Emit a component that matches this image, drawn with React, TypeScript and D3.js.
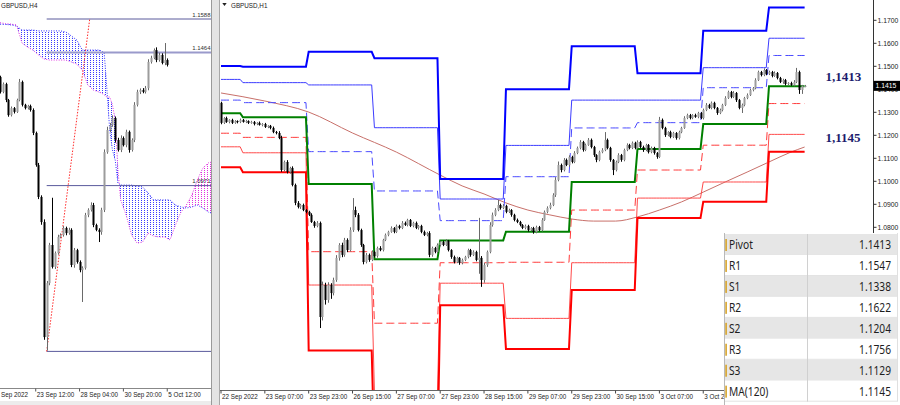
import React from "react";
import * as d3 from "d3";

// ---------------- H1 panel (right) ----------------
const h1FirstOpen = 1.1341;
const h1Close = [
  1.1254, 1.1275, 1.1258, 1.1267, 1.1254, 1.1262, 1.1258, 1.1267, 1.1258, 1.1262,
  1.1254, 1.1258, 1.1249, 1.1254, 1.1245, 1.1249, 1.1236, 1.1241, 1.1232, 1.1214,
  1.1210, 1.1188, 1.1049, 1.1084, 1.1041, 1.1058, 1.0984, 1.0906, 1.0888, 1.0897,
  1.0875, 1.0867, 1.0854, 1.0823, 1.0806, 1.0819, 1.0410, 1.0549, 1.0484, 1.0549,
  1.0514, 1.0571, 1.0667, 1.0723, 1.0680, 1.0745, 1.0701, 1.0788, 1.0875, 1.0854,
  1.0788, 1.0723, 1.0649, 1.0680, 1.0658, 1.0693, 1.0675, 1.0710, 1.0701, 1.0745,
  1.0767, 1.0780, 1.0797, 1.0780, 1.0806, 1.0797, 1.0819, 1.0810, 1.0832, 1.0806,
  1.0819, 1.0797, 1.0806, 1.0780, 1.0767, 1.0775, 1.0680, 1.0710, 1.0693, 1.0723,
  1.0736, 1.0723, 1.0740, 1.0701, 1.0671, 1.0649, 1.0667, 1.0645, 1.0658, 1.0671,
  1.0701, 1.0680, 1.0693, 1.0658, 1.0667, 1.0571, 1.0636, 1.0693, 1.0810, 1.0854,
  1.0875, 1.0897, 1.0884, 1.0893, 1.0867, 1.0875, 1.0854, 1.0832, 1.0823, 1.0810,
  1.0797, 1.0806, 1.0788, 1.0797, 1.0780, 1.0801, 1.0788, 1.0832, 1.0867, 1.0884,
  1.0897, 1.0940, 1.1006, 1.1071, 1.1049, 1.1093, 1.1071, 1.1106, 1.1084, 1.1123,
  1.1145, 1.1171, 1.1136, 1.1158, 1.1180, 1.1149, 1.1114, 1.1093, 1.1127, 1.1136,
  1.1180, 1.1145, 1.1093, 1.1049, 1.1084, 1.1114, 1.1093, 1.1136, 1.1158, 1.1145,
  1.1167, 1.1145, 1.1171, 1.1149, 1.1136, 1.1158, 1.1127, 1.1145, 1.1123, 1.1106,
  1.1267, 1.1232, 1.1201, 1.1214, 1.1193, 1.1210, 1.1188, 1.1214, 1.1232, 1.1275,
  1.1288, 1.1275, 1.1288, 1.1280, 1.1297, 1.1275, 1.1310, 1.1332, 1.1319, 1.1341,
  1.1319, 1.1297, 1.1310, 1.1332, 1.1362, 1.1388, 1.1367, 1.1384, 1.1353, 1.1319,
  1.1332, 1.1362, 1.1375, 1.1397, 1.1405, 1.1440, 1.1475, 1.1462, 1.1484, 1.1467,
  1.1475, 1.1458, 1.1471, 1.1449, 1.1432, 1.1440, 1.1423, 1.1427, 1.1419, 1.1432,
  1.1475, 1.1397, 1.1414, 1.1415,
];
const h1UpWickPips = [
  5, 4, 6, 3, 5, 4, 3, 6, 4, 5, 3, 5, 4, 3, 6, 4, 5, 3, 4, 6,
  5, 8, 10, 6, 8, 5, 7, 6, 8, 5, 6, 4, 5, 7, 5, 8, 6, 15, 10, 12,
  8, 10, 12, 8, 10, 9, 7, 12, 52, 15, 8, 6, 5, 8, 6, 7, 5, 6, 8, 5,
  6, 5, 7, 4, 6, 5, 8, 6, 5, 4, 5, 6, 4, 5, 6, 5, 8, 6, 5, 7,
  5, 6, 8, 5, 4, 6, 5, 4, 6, 5, 6, 5, 7, 5, 174, 8, 10, 6, 12, 10,
  8, 22, 6, 8, 5, 6, 4, 5, 6, 5, 4, 6, 5, 4, 5, 6, 5, 8, 6, 7,
  10, 8, 12, 15, 6, 8, 6, 7, 5, 8, 6, 8, 5, 6, 8, 6, 5, 4, 6, 8,
  34, 6, 5, 4, 6, 8, 5, 6, 7, 5, 6, 5, 7, 5, 6, 5, 4, 6, 5, 4,
  13, 6, 5, 4, 6, 5, 4, 6, 5, 8, 6, 5, 4, 6, 5, 4, 6, 8, 5, 6,
  5, 4, 6, 5, 8, 6, 5, 8, 4, 5, 6, 5, 7, 6, 5, 8, 6, 5, 7, 4,
  6, 5, 7, 4, 5, 6, 5, 4, 6, 8, 18, 6, 5, 4,
];
const h1DnWickPips = [
  6, 5, 4, 6, 5, 4, 6, 5, 3, 5, 5, 4, 6, 5, 3, 6, 4, 5, 6, 5,
  6, 5, 8, 6, 7, 8, 6, 10, 6, 8, 5, 6, 5, 4, 8, 6, 48, 15, 20, 12,
  25, 10, 8, 12, 10, 8, 9, 6, 8, 10, 6, 8, 10, 6, 8, 5, 6, 7, 5, 6,
  5, 6, 4, 6, 5, 6, 5, 4, 6, 5, 6, 5, 7, 6, 5, 6, 10, 8, 6, 5,
  6, 5, 4, 6, 8, 6, 5, 8, 6, 5, 6, 8, 5, 6, 60, 30, 12, 8, 6, 7,
  6, 5, 7, 5, 6, 5, 8, 6, 5, 6, 5, 6, 7, 5, 8, 6, 5, 6, 4, 6,
  6, 5, 8, 6, 10, 6, 5, 8, 6, 5, 5, 6, 7, 5, 4, 6, 8, 10, 6, 5,
  5, 6, 8, 22, 6, 5, 8, 6, 5, 6, 5, 6, 4, 6, 8, 5, 6, 5, 7, 8,
  5, 6, 8, 5, 6, 5, 7, 6, 5, 4, 5, 6, 5, 4, 6, 5, 6, 5, 4, 6,
  6, 8, 5, 6, 5, 4, 6, 5, 8, 6, 22, 6, 5, 4, 6, 5, 4, 6, 5, 6,
  5, 6, 4, 6, 5, 8, 6, 5, 4, 6, 5, 17, 17, 5,
];

const h1DayStartBars = [0, 8, 32, 56, 80, 104, 128, 152, 176, 200];
const pivotR3 = [1.1501, 1.1498, 1.1563, 1.1535, 1.101, 1.14, 1.1587, 1.147, 1.1655, 1.1756];
const pivotR2 = [1.1443, 1.1429, 1.1419, 1.1233, 1.0923, 1.1156, 1.1353, 1.1353, 1.1494, 1.1622];
const pivotR1 = [1.1353, 1.1342, 1.1129, 1.0958, 1.0829, 1.102, 1.1232, 1.1255, 1.1407, 1.1547];
const pivotP = [1.1296, 1.1278, 1.0988, 1.0661, 1.0743, 1.0781, 1.0997, 1.114, 1.1249, 1.1413];
const pivotS1 = [1.1209, 1.1191, 1.0694, 1.0383, 1.0646, 1.0648, 1.0875, 1.1049, 1.1157, 1.1338];
const pivotS2 = [1.115, 1.1124, 1.0549, 1.0084, 1.0557, 1.0404, 1.0646, 1.0927, 1.0997, 1.1204];
const pivotS3 = [1.1061, 1.1039, 1.0264, 0.981, 1.0461, 1.0271, 1.0527, 1.084, 1.0911, 1.1129];

const maBars = [0, 16, 32, 48, 64, 80, 88, 96, 104, 112, 120, 128, 136, 144, 152, 160, 168, 176, 184, 192, 200, 208, 213];
const maValues = [1.1384, 1.1349, 1.1301, 1.121, 1.1127, 1.1027, 1.098, 1.0945, 1.0906, 1.0875, 1.0854, 1.0836, 1.0827, 1.0827, 1.0845, 1.0875, 1.091, 1.0953, 1.0997, 1.104, 1.1084, 1.1127, 1.1149];

const h1TickBars = [0, 16, 32, 48, 64, 80, 96, 112, 128, 144, 160, 176];
const h1TickLabels = [
  "22 Sep 2022", "23 Sep 07:00", "23 Sep 23:00", "26 Sep 15:00", "27 Sep 07:00",
  "27 Sep 23:00", "28 Sep 15:00", "29 Sep 07:00", "29 Sep 23:00", "30 Sep 15:00",
  "3 Oct 07:00", "3 Oct 23:00",
];
const h1PriceTicks = [1.17, 1.16, 1.15, 1.14, 1.13, 1.12, 1.11, 1.1, 1.09, 1.08];

// ---------------- H4 panel (left) ----------------
const h4FirstOpen = 1.1373;
const h4Close = [
  1.1318, 1.1347, 1.1288, 1.1232, 1.1258, 1.1244, 1.1288, 1.1355, 1.127, 1.1258,
  1.1266, 1.1251, 1.1166, 1.1047, 1.0929, 1.0836, 1.041, 1.061, 1.0751, 1.067,
  1.0721, 1.0781, 1.0788, 1.0814, 1.0795, 1.0807, 1.0677, 1.0732, 1.0688, 1.0658,
  1.0666, 1.0862, 1.0881, 1.0899, 1.0825, 1.0807, 1.0799, 1.0881, 1.1095, 1.1177,
  1.1195, 1.1221, 1.114, 1.1103, 1.1147, 1.1121, 1.117, 1.1103, 1.114, 1.127,
  1.1318, 1.1325, 1.1318, 1.1332, 1.1429, 1.1444, 1.1473, 1.1436, 1.1455, 1.1425,
  1.1436, 1.1418,
];
const h4UpWickPips = [
  5, 6, 5, 4, 6, 4, 5, 11, 5, 4, 4, 5, 6, 5, 8, 6, 10, 8, 8, 175,
  6, 8, 6, 7, 5, 8, 6, 8, 5, 6, 6, 8, 6, 10, 8, 5, 6, 8, 10, 12,
  8, 10, 6, 8, 10, 6, 8, 5, 6, 10, 8, 6, 7, 8, 10, 8, 6, 10, 8, 6,
  63, 6,
];
const h4DnWickPips = [
  6, 5, 8, 6, 5, 6, 4, 5, 6, 5, 5, 6, 8, 6, 8, 10, 10, 50, 8, 6,
  8, 6, 5, 6, 8, 6, 8, 10, 6, 8, 118, 6, 8, 6, 8, 5, 37, 10, 8, 6,
  8, 6, 10, 6, 8, 5, 8, 10, 6, 8, 6, 8, 5, 6, 8, 6, 5, 8, 6, 5,
  8, 6,
];
const h4TickBars = [-3, 13, 29, 45, 61];
const h4TickLabels = ["Sep 2022", "23 Sep 12:00", "28 Sep 04:00", "30 Sep 20:00", "5 Oct 12:00"];

const fibLevels = [1.1588, 1.1464, 1.0971, 1.0357];
const fibLabels = ["1.1588", "1.1464", "1.0971", ""];
const fibStartBar = 17;
const trendBars = [17, 32.7];
const trendPrices = [1.0357, 1.1588];

const ichiBars = [0, 2, 4, 6, 8, 10, 12, 14, 16, 18, 20, 22, 24, 26, 28, 30, 32, 34, 36, 37, 38, 39, 40, 41, 42, 43, 44, 46, 48, 50, 52, 54, 56, 58, 60, 62, 64, 66, 68, 70, 72, 74, 76, 77];
const spanA = [1.1569, 1.1568, 1.1566, 1.1562, 1.1547, 1.1547, 1.1547, 1.1544, 1.1544, 1.1544, 1.1544, 1.1544, 1.154, 1.1525, 1.151, 1.1473, 1.1473, 1.1473, 1.1473, 1.147, 1.1462, 1.1325, 1.1177, 1.1103, 1.1066, 1.0981, 1.0973, 1.0973, 1.0973, 1.097, 1.0966, 1.0944, 1.0918, 1.0918, 1.0918, 1.0918, 1.0899, 1.0892, 1.0888, 1.0892, 1.0899, 1.0888, 1.0873, 1.087];
const spanB = [1.1574, 1.1571, 1.1569, 1.1566, 1.1499, 1.1484, 1.1473, 1.1455, 1.144, 1.1436, 1.1436, 1.1436, 1.1436, 1.1429, 1.1421, 1.1399, 1.1344, 1.1325, 1.1318, 1.1314, 1.1307, 1.1299, 1.1299, 1.127, 1.1214, 1.1029, 1.0918, 1.0862, 1.0788, 1.0758, 1.0762, 1.0795, 1.0784, 1.0781, 1.0781, 1.077, 1.0825, 1.0873, 1.0899, 1.0936, 1.0992, 1.1036, 1.1055, 1.1058];
const cloudSplitBar = 68;

// ---------------- table & callouts ----------------
const tableLabels = ["Pivot", "R1", "S1", "R2", "S2", "R3", "S3", "MA(120)"];
const tableValues = ["1.1413", "1.1547", "1.1338", "1.1622", "1.1204", "1.1756", "1.1129", "1.1145"];
const calloutTexts = ["1,1413", "1,1145"];
const calloutValues = [1.1413, 1.1145];

type Candle = { i: number; o: number; c: number; hi: number; lo: number };

function buildCandles(firstOpen: number, closes: number[], up: number[], dn: number[]): Candle[] {
  return closes.map((c, i) => {
    const o = i === 0 ? firstOpen : closes[i - 1];
    return { i, o, c, hi: Math.max(o, c) + up[i] * 1e-4, lo: Math.min(o, c) - dn[i] * 1e-4 };
  });
}

const AXIS_FONT = "'Liberation Sans', Arial, sans-serif";

function Candles({ data, x, y }: { data: Candle[]; x: (v: number) => number; y: (v: number) => number }) {
  return (
    <g>
      {data.map((c) => {
        const bull = c.c >= c.o;
        const cx = Math.round(x(c.i)) + 0.5;
        const top = y(Math.max(c.o, c.c));
        const bot = y(Math.min(c.o, c.c));
        return (
          <g key={c.i}>
            <line x1={cx} x2={cx} y1={y(c.hi)} y2={y(c.lo)} stroke={bull ? "#6a6a6a" : "#000"} strokeWidth={1} />
            <rect x={cx - 1} y={top} width={2} height={Math.max(1, bot - top)} fill={bull ? "#9c9c9c" : "#000"} />
          </g>
        );
      })}
    </g>
  );
}

export default function App() {
  const xR = d3.scaleLinear().domain([0, 238]).range([221, 221 + 238 * 2.74]);
  const yR = d3.scaleLinear().domain([1.17, 1.08]).range([20.3, 227.3]);
  const xL = d3.scaleLinear().domain([0, 77]).range([0.1, 0.1 + 77 * 2.74]);
  const yL = d3.scaleLinear().domain([1.1588, 1.0357]).range([19, 351.4]);

  const h1 = buildCandles(h1FirstOpen, h1Close, h1UpWickPips, h1DnWickPips);
  const h4 = buildCandles(h4FirstOpen, h4Close, h4UpWickPips, h4DnWickPips);

  const dayOf = (b: number) => {
    let d = 0;
    h1DayStartBars.forEach((s, k) => {
      if (b >= s) d = k;
    });
    return d;
  };
  const barIdx = h1Close.map((_, i) => i);
  const pivotPath = (lv: number[]) =>
    d3.line<number>().x((b) => xR(b)).y((b) => yR(lv[dayOf(b)]))(barIdx) || "";

  const levels = [
    { lv: pivotS2, color: "#ff4a4a", w: 1, dash: undefined as string | undefined },
    { lv: pivotS1, color: "#ff3a3a", w: 1, dash: "8,4" },
    { lv: pivotS3, color: "#ff0000", w: 2, dash: undefined },
    { lv: pivotR2, color: "#3c3cff", w: 1, dash: undefined },
    { lv: pivotR1, color: "#4a4aff", w: 1, dash: "8,4" },
    { lv: pivotR3, color: "#0000ff", w: 2, dash: undefined },
    { lv: pivotP, color: "#008000", w: 2, dash: undefined },
  ];

  const maIdx = maBars.map((_, i) => i);
  const maPath =
    d3.line<number>().x((i) => xR(maBars[i])).y((i) => yR(maValues[i])).curve(d3.curveMonotoneX)(maIdx) || "";

  const ichiIdx = ichiBars.map((_, i) => i);
  const blueIdx = ichiIdx.filter((i) => ichiBars[i] <= cloudSplitBar);
  const magIdx = ichiIdx.filter((i) => ichiBars[i] >= cloudSplitBar);
  const cloudArea = d3
    .area<number>()
    .x((i) => xL(ichiBars[i]))
    .y0((i) => yL(spanA[i]))
    .y1((i) => yL(spanB[i]));
  const spanALine = d3.line<number>().x((i) => xL(ichiBars[i])).y((i) => yL(spanA[i]))(ichiIdx) || "";
  const spanBLine = d3.line<number>().x((i) => xL(ichiBars[i])).y((i) => yL(spanB[i]))(ichiIdx) || "";

  const lastClose = h1Close[h1Close.length - 1];
  const tTop = 234;
  const rowH = 20.95;

  return (
    <svg
      width={900}
      height={405}
      viewBox="0 0 900 405"
      style={{ position: "absolute", left: 0, top: 0, display: "block", background: "#fff" }}
    >
      <defs>
        <clipPath id="clipL">
          <rect x={0} y={0} width={211} height={388} />
        </clipPath>
        <clipPath id="clipR">
          <rect x={220} y={0} width={653} height={390} />
        </clipPath>
        <clipPath id="clipAxisR">
          <rect x={220} y={390} width={504} height={15} />
        </clipPath>
        <pattern id="hatchBlue" width={3} height={2} patternUnits="userSpaceOnUse">
          <rect x={0} y={0} width={1} height={1} fill="#3a3aff" />
        </pattern>
        <pattern id="hatchMag" width={3} height={2} patternUnits="userSpaceOnUse">
          <rect x={0} y={0} width={1} height={1} fill="#e030e0" />
        </pattern>
      </defs>
      <rect x={0} y={0} width={900} height={405} fill="#fff" />

      {/* ---------- LEFT PANEL (H4) ---------- */}
      <g clipPath="url(#clipL)">
        <path d={cloudArea(blueIdx) || ""} fill="url(#hatchBlue)" />
        <path d={cloudArea(magIdx) || ""} fill="url(#hatchMag)" />
        <path d={spanALine} fill="none" stroke="#3030ff" strokeWidth={1} strokeDasharray="1,1.5" />
        <path d={spanBLine} fill="none" stroke="#e030e0" strokeWidth={1} strokeDasharray="1,1.5" />
        {fibLevels.map((lv, i) => (
          <line
            key={lv}
            x1={xL(fibStartBar)}
            x2={211}
            y1={yL(lv)}
            y2={yL(lv)}
            stroke={i === 1 ? "#9a9acb" : "#5a5a9c"}
            strokeWidth={i === 1 ? 2 : 1}
          />
        ))}
        <line
          x1={xL(trendBars[0])}
          y1={yL(trendPrices[0])}
          x2={xL(trendBars[1])}
          y2={yL(trendPrices[1])}
          stroke="#ff2a2a"
          strokeWidth={1}
          strokeDasharray="1.5,1.5"
        />
        <Candles data={h4} x={xL} y={yL} />
        {fibLevels.map((lv, i) =>
          fibLabels[i] ? (
            <text key={"fl" + lv} x={210.5} y={yL(lv) - 2.3} textAnchor="end" fontSize={6} fontFamily={AXIS_FONT} fill="#333">
              {fibLabels[i]}
            </text>
          ) : null
        )}
      </g>
      <text x={1} y={7.8} fontSize={6.3} fontFamily={AXIS_FONT} fill="#222">
        GBPUSD,H4
      </text>
      <line x1={0} x2={211} y1={388.5} y2={388.5} stroke="#888" strokeWidth={1} />
      {h4TickBars.map((b, i) => (
        <g key={"lt" + b}>
          <line x1={xL(b)} x2={xL(b)} y1={388.5} y2={391.5} stroke="#555" />
          <text x={Math.max(1, xL(b) + 1)} y={396.5} fontSize={6.3} fontFamily={AXIS_FONT} fill="#222">
            {h4TickLabels[i]}
          </text>
        </g>
      ))}
      <rect x={0} y={401} width={211} height={4} fill="#ececec" />

      {/* separator */}
      <rect x={211} y={0} width={8.5} height={405} fill="#e4e4e4" />
      <line x1={211.5} x2={211.5} y1={0} y2={405} stroke="#9a9a9a" />
      <line x1={219.5} x2={219.5} y1={0} y2={405} stroke="#a8a8a8" />

      {/* ---------- RIGHT PANEL (H1) ---------- */}
      <g clipPath="url(#clipR)">
        <path d={maPath} fill="none" stroke="#c8706a" strokeWidth={1} />
        {levels.map((s, i) => (
          <path
            key={"lv" + i}
            d={pivotPath(s.lv)}
            fill="none"
            stroke={s.color}
            strokeWidth={s.w}
            strokeDasharray={s.dash}
          />
        ))}
        <Candles data={h1} x={xR} y={yR} />
      </g>

      <path d="M222.3,3 L226.7,3 L224.5,6 Z" fill="#222" />
      <text x={231} y={7.8} fontSize={6.3} fontFamily={AXIS_FONT} fill="#222">
        GBPUSD,H1
      </text>

      {/* bottom axis */}
      <line x1={220} x2={873.5} y1={390.5} y2={390.5} stroke="#666" strokeWidth={1} />
      <g clipPath="url(#clipAxisR)">
        {h1TickBars.map((b, i) => (
          <g key={"rt" + b}>
            <line x1={xR(b)} x2={xR(b)} y1={390.5} y2={393.5} stroke="#444" />
            <text x={xR(b) + 1} y={398.5} fontSize={6.3} fontFamily={AXIS_FONT} fill="#222">
              {h1TickLabels[i]}
            </text>
          </g>
        ))}
      </g>

      {/* price axis */}
      <line x1={873.5} x2={873.5} y1={0} y2={390.5} stroke="#333" strokeWidth={1} />
      {h1PriceTicks.map((p) => (
        <g key={"pt" + p}>
          <line x1={873.5} x2={876.5} y1={yR(p)} y2={yR(p)} stroke="#333" />
          <text x={877.5} y={yR(p)} dy="0.35em" fontSize={6.8} fontFamily={AXIS_FONT} fill="#222">
            {p.toFixed(4)}
          </text>
        </g>
      ))}
      <rect x={873.5} y={yR(lastClose) - 5} width={26.5} height={10} fill="#000" />
      <text x={875.5} y={yR(lastClose)} dy="0.35em" fontSize={6.8} fontFamily={AXIS_FONT} fill="#fff">
        {lastClose.toFixed(4)}
      </text>

      {/* callouts */}
      {calloutTexts.map((t, i) => (
        <text
          key={t}
          x={825.5}
          y={yR(calloutValues[i]) - 5.5}
          fontSize={13}
          fontWeight="bold"
          fontFamily="'Liberation Serif', 'Times New Roman', serif"
          fill="#1c1c6c"
        >
          {t}
        </text>
      ))}

      {/* table */}
      <rect x={724} y={tTop - 1} width={176} height={405 - tTop + 1} fill="#fff" />
      {tableLabels.map((lab, i) => {
        const y = tTop + i * rowH;
        return (
          <g key={lab}>
            <rect x={724.5} y={y} width={173} height={rowH - 0.8} fill={i % 2 === 0 ? "#e6e6e6" : "#ffffff"} />
            <line x1={724.5} x2={897.5} y1={y + rowH - 0.4} y2={y + rowH - 0.4} stroke="#dcdcdc" strokeWidth={0.8} />
            <rect x={725.3} y={y + 5} width={1.6} height={12} fill="#d6a32a" />
            <text
              transform={`translate(729,${y + 15.3}) scale(0.85,1)`}
              fontSize={12}
              fontFamily="'Noto Sans', 'Open Sans', sans-serif"
              fill="#1e1e1e"
            >
              {lab}
            </text>
            <text
              transform={`translate(891,${y + 15.3}) scale(0.85,1)`}
              textAnchor="end"
              fontSize={12}
              fontFamily="'Noto Sans', 'Open Sans', sans-serif"
              fill="#1e1e1e"
            >
              {tableValues[i]}
            </text>
          </g>
        );
      })}
      <line x1={807.5} x2={807.5} y1={tTop} y2={tTop + rowH * 8} stroke="#d0d0d0" />
      <line x1={724.5} x2={724.5} y1={tTop - 1} y2={405} stroke="#b8b8b8" />
      <line x1={897.5} x2={897.5} y1={tTop - 1} y2={tTop + rowH * 8} stroke="#e0e0e0" />
    </svg>
  );
}
